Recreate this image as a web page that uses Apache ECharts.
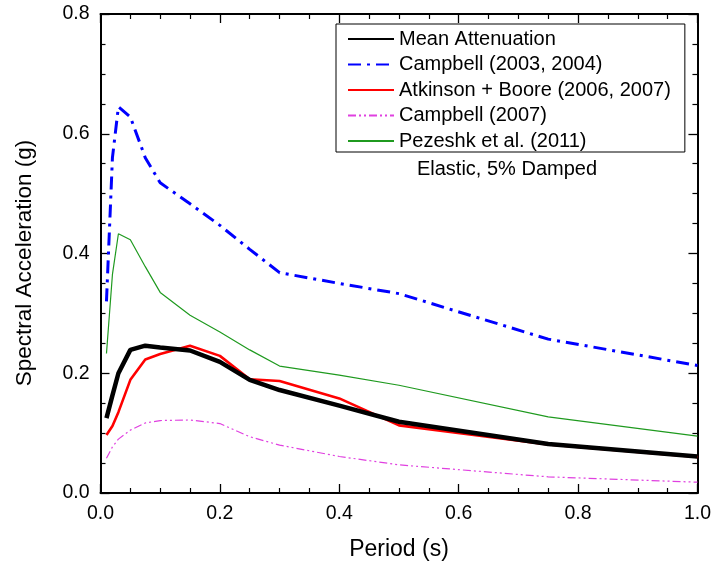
<!DOCTYPE html>
<html>
<head>
<meta charset="utf-8">
<script src="https://cdn.jsdelivr.net/npm/echarts@6/dist/echarts.min.js"></script>
<style>html,body{margin:0;padding:0;background:#fff;}#c{width:714px;height:569px;}</style>
</head>
<body>
<div id="c"></div>
<script>
const periods = [0.01, 0.02, 0.03, 0.05, 0.075, 0.1, 0.15, 0.2, 0.25, 0.3, 0.4, 0.5, 0.75, 1.0];
const meanAtt   = [0.125, 0.163, 0.200, 0.239, 0.246, 0.243, 0.238, 0.219, 0.189, 0.172, 0.146, 0.119, 0.082, 0.061];
const campbell0304 = [0.320, 0.560, 0.645, 0.628, 0.560, 0.518, 0.483, 0.447, 0.407, 0.368, 0.350, 0.333, 0.257, 0.213];
const atkinson  = [0.097, 0.112, 0.135, 0.189, 0.223, 0.232, 0.246, 0.229, 0.190, 0.187, 0.158, 0.113, 0.081, 0.060];
const campbell07 = [0.058, 0.077, 0.090, 0.105, 0.117, 0.121, 0.122, 0.116, 0.094, 0.080, 0.061, 0.047, 0.027, 0.018];
const pezeshk   = [0.233, 0.365, 0.433, 0.423, 0.378, 0.335, 0.297, 0.269, 0.239, 0.212, 0.197, 0.180, 0.127, 0.095];
const seriesNames = ['Mean Attenuation', 'Campbell (2003, 2004)', 'Atkinson + Boore (2006, 2007)', 'Campbell (2007)', 'Pezeshk et al. (2011)'];
const xTicks = ['0.0', '0.2', '0.4', '0.6', '0.8', '1.0'];
const yTicks = ['0.0', '0.2', '0.4', '0.6', '0.8'];

const pair = arr => periods.map((p, i) => [p, arr[i]]);
const font = 'Liberation Sans, Arial, sans-serif';
const chart = echarts.init(document.getElementById('c'));

function axis(extra) {
  return Object.assign({
    type: 'value', min: 0,
    axisLine: { show: true, onZero: false, lineStyle: { color: '#000', width: 2 } },
    axisTick: { show: true, inside: true, length: 9, lineStyle: { color: '#000', width: 1.3 } },
    minorTick: { show: true, splitNumber: 4, length: 5, lineStyle: { color: '#000', width: 1.2 } },
    splitLine: { show: false },
  }, extra);
}

chart.setOption({
  animation: false,
  backgroundColor: '#fff',
  grid: { left: 100.5, right: 16.5, top: 14, bottom: 76 },
  xAxis: [
    axis({
      max: 1, interval: 0.2, position: 'bottom',
      name: 'Period (s)', nameLocation: 'middle', nameGap: 45,
      nameTextStyle: { fontFamily: font, fontSize: 23, color: '#000' },
      axisLabel: { fontFamily: font, fontSize: 19.5, color: '#000', margin: 11,
        formatter: v => xTicks[Math.round(v / 0.2)] }
    }),
    axis({ max: 1, interval: 0.2, position: 'top', axisLabel: { show: false } })
  ],
  yAxis: [
    axis({
      max: 0.8, interval: 0.2, position: 'left',
      axisLabel: { fontFamily: font, fontSize: 19.5, color: '#000', margin: 11,
        formatter: v => yTicks[Math.round(v / 0.2)] }
    }),
    axis({ max: 0.8, interval: 0.2, position: 'right', axisLabel: { show: false } })
  ],
  legend: {
    orient: 'vertical', left: 336, top: 24,
    data: seriesNames,
    itemWidth: 46, itemHeight: 14, itemGap: 5.5,
    padding: [5, 14, 1, 11],
    borderColor: '#000', borderWidth: 1, borderRadius: 0,
    textStyle: { fontFamily: font, fontSize: 20, color: '#000' },
    itemStyle: { opacity: 0 },
  },
  graphic: [
    { type: 'text', x: 507, y: 169,
      style: { text: 'Elastic, 5% Damped', font: '20px ' + font, fill: '#000', align: 'center', verticalAlign: 'middle' } },
    { type: 'text', x: 25, y: 263, rotation: Math.PI / 2,
      style: { text: 'Spectral Acceleration (g)', font: '22.5px ' + font, fill: '#000', align: 'center', verticalAlign: 'middle' } }
  ],
  series: [
    { name: 'Pezeshk et al. (2011)', type: 'line', data: pair(pezeshk), showSymbol: false, symbol: 'none',
      lineStyle: { color: '#1f9a1f', width: 1.2 }, itemStyle: { color: '#1f9a1f' }, z: 2 },
    { name: 'Campbell (2007)', type: 'line', data: pair(campbell07), showSymbol: false, symbol: 'none',
      lineStyle: { color: '#e040e0', width: 1.2, type: [8, 3, 2, 3, 2, 3] }, itemStyle: { color: '#e040e0' }, z: 2 },
    { name: 'Atkinson + Boore (2006, 2007)', type: 'line', data: pair(atkinson), showSymbol: false, symbol: 'none',
      lineStyle: { color: '#ff0000', width: 2.6 }, itemStyle: { color: '#ff0000' }, z: 3 },
    { name: 'Campbell (2003, 2004)', type: 'line', data: pair(campbell0304), showSymbol: false, symbol: 'none',
      lineStyle: { color: '#0000ff', width: 3, type: [13, 6, 3, 6] }, itemStyle: { color: '#0000ff' }, z: 3 },
    { name: 'Mean Attenuation', type: 'line', data: pair(meanAtt), showSymbol: false, symbol: 'none',
      lineStyle: { color: '#000', width: 4.5 }, itemStyle: { color: '#000' }, z: 4 },
  ]
});
</script>
</body>
</html>
